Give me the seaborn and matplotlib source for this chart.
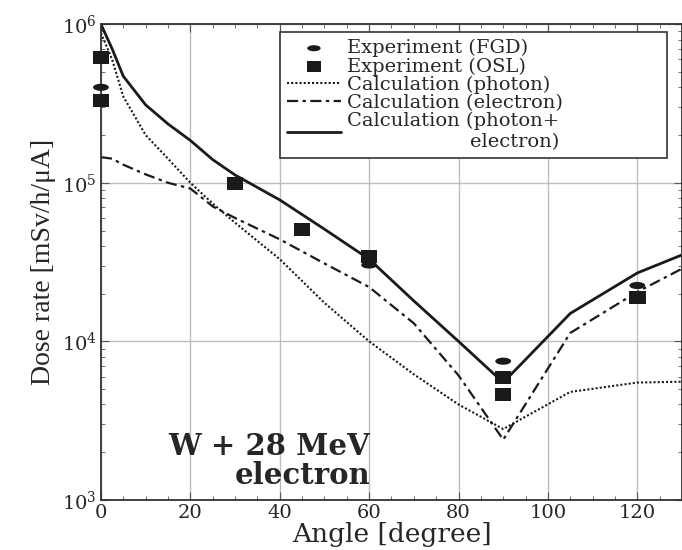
import matplotlib
matplotlib.use("Agg")
import matplotlib.pyplot as plt
from matplotlib.path import Path
from matplotlib.transforms import Affine2D
from matplotlib.ticker import MultipleLocator, LogLocator
import seaborn as sns

# calculated dose rates
angle_calc = [0, 2.5, 5, 10, 15, 20, 25, 30, 40, 50, 60, 70, 80, 90, 105, 120, 135]
dose_photon = [8.8e5, 6.0e5, 3.5e5, 2.0e5, 1.42e5, 1.0e5, 7.4e4, 5.6e4, 3.3e4, 1.75e4,
               1.0e4, 6.2e3, 4.0e3, 2.8e3, 4.8e3, 5.5e3, 5.6e3]
dose_electron = [1.45e5, 1.42e5, 1.3e5, 1.13e5, 1.0e5, 9.2e4, 7.1e4, 6.0e4, 4.4e4, 3.1e4,
                 2.2e4, 1.3e4, 6.1e3, 2.4e3, 1.13e4, 2.05e4, 3.4e4]
dose_total = [1.0e6, 7.0e5, 4.7e5, 3.1e5, 2.35e5, 1.85e5, 1.4e5, 1.12e5, 7.8e4, 5.1e4,
              3.3e4, 1.8e4, 1.0e4, 5.5e3, 1.5e4, 2.7e4, 4.0e4]

# measurements
angle_fgd = [0, 60, 90, 120]
dose_fgd = [4.0e5, 3.03e4, 7.5e3, 2.25e4]
angle_osl = [0, 0, 30, 45, 60, 90, 90, 120]
dose_osl = [6.2e5, 3.32e5, 9.9e4, 5.1e4, 3.45e4, 5.9e3, 4.6e3, 1.9e4]

labels = ["Experiment (FGD)", "Experiment (OSL)", "Calculation (photon)",
          "Calculation (electron)", "Calculation (photon+\nelectron)"]

sns.set_style("ticks")
plt.rcParams["font.family"] = ["DejaVu Serif"]
plt.rcParams["mathtext.default"] = "regular"

ink = "#1a1a1a"
ellipse = Path.unit_circle().transformed(Affine2D().scale(1.0, 0.45))
rect = Path.unit_rectangle().transformed(Affine2D().translate(-0.5, -0.5).scale(1.0, 0.8))

fig = plt.figure(figsize=(6.82, 5.50), dpi=100)
ax = fig.add_axes([0.148, 0.091, 0.852, 0.865])

sns.scatterplot(x=angle_fgd, y=dose_fgd, ax=ax, marker=ellipse, s=130, color=ink,
                edgecolor="none", clip_on=False, zorder=6, label=labels[0])
sns.scatterplot(x=angle_osl, y=dose_osl, ax=ax, marker=rect, s=140, color=ink,
                edgecolor="none", clip_on=False, zorder=6, label=labels[1])
sns.lineplot(x=angle_calc, y=dose_photon, ax=ax, color=ink, linestyle=(0, (1, 1)),
             lw=1.5, label=labels[2])
sns.lineplot(x=angle_calc, y=dose_electron, ax=ax, color=ink, linestyle=(0, (5, 2, 1.5, 2)),
             lw=1.6, label=labels[3])
sns.lineplot(x=angle_calc, y=dose_total, ax=ax, color=ink, linestyle="-",
             lw=2.0, label=labels[4])

ax.set_yscale("log")
ax.set_xlim(0, 130)
ax.set_ylim(1e3, 1e6)
ax.xaxis.set_major_locator(MultipleLocator(20))
ax.xaxis.set_minor_locator(MultipleLocator(5))
ax.yaxis.set_major_locator(LogLocator(base=10, numticks=10))
ax.yaxis.set_minor_locator(LogLocator(base=10, subs=range(2, 10), numticks=20))
ax.grid(True, which="major", color="#bdbdbd", lw=1.0)
ax.tick_params(which="both", direction="in", top=True, right=True, color="#555555",
               labelsize=14, pad=3)
ax.tick_params(which="major", length=6)
ax.tick_params(which="minor", length=3)
for sp in ax.spines.values():
    sp.set_color("#333333")
    sp.set_linewidth(1.3)

ax.set_xlabel("Angle [degree]", fontsize=19, labelpad=0)
ax.set_ylabel("Dose rate [mSv/h/\u03bcA]", fontsize=20, family="Liberation Serif", labelpad=4)

ax.text(60.2, 1750, "W + 28 MeV\nelectron", ha="right", va="center", multialignment="right",
        fontsize=21, fontweight="bold", linespacing=1.0)

handles, labs = ax.get_legend_handles_labels()
order = [labs.index(l) for l in labels]
leg = ax.legend([handles[i] for i in order], labels, loc="upper left",
                bbox_to_anchor=(0.308, 0.689, 0.666, 0.294), mode="expand",
                borderaxespad=0, fontsize=14, frameon=True, fancybox=False,
                edgecolor="#333333", framealpha=1, labelspacing=0.0, borderpad=0.35,
                handlelength=2.8, handletextpad=0.3, markerscale=0.85)
leg.get_frame().set_linewidth(1.2)
leg.get_texts()[4].set_multialignment("right")

fig.savefig("out.png", dpi=100)
